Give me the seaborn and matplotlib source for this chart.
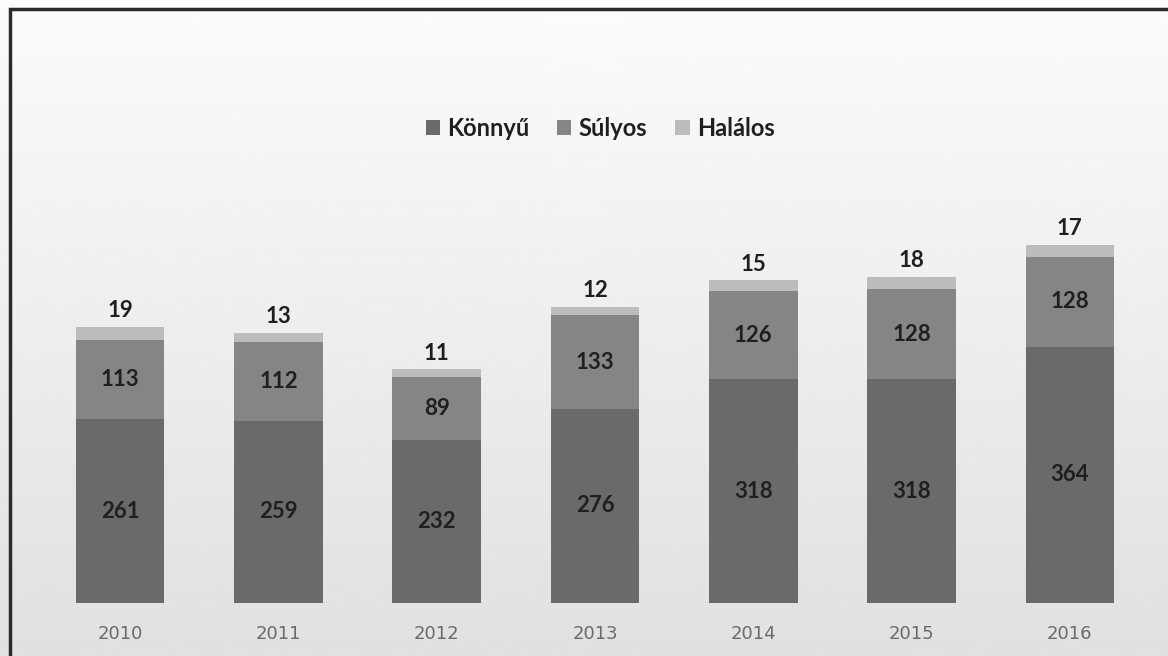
import numpy as np
import pandas as pd
import matplotlib
matplotlib.use("Agg")
import matplotlib.pyplot as plt
import seaborn as sns
from matplotlib.patches import Patch, Rectangle

years = ["2010", "2011", "2012", "2013", "2014", "2015", "2016"]
konnyu = [261, 259, 232, 276, 318, 318, 364]
sulyos = [113, 112, 89, 133, 126, 128, 128]
halalos = [19, 13, 11, 12, 15, 18, 17]
series_names = ["Könnyű", "Súlyos", "Halálos"]
colors = ["#6a6a6a", "#858585", "#bcbcbc"]

df = pd.DataFrame({"year": years, "Könnyű": konnyu, "Súlyos": sulyos, "Halálos": halalos})
df["ks"] = df["Könnyű"] + df["Súlyos"]
df["total"] = df["ks"] + df["Halálos"]

sns.set_theme(style="white")
plt.rcParams["font.family"] = ["Lato", "DejaVu Sans"]

fig = plt.figure(figsize=(11.68, 6.56), dpi=100)

# background gradient
bg = fig.add_axes([0, 0, 1, 1], zorder=-10)
grad = np.linspace(0.985, 0.88, 256).reshape(-1, 1)
bg.imshow(grad, aspect="auto", cmap="gray", vmin=0, vmax=1, extent=[0, 1, 0, 1])
bg.set_axis_off()
bg.add_patch(Rectangle((10 / 1168, -0.05), 1.2, 1 - 9 / 656 + 0.05, fill=False,
                       edgecolor="#2a2a2a", linewidth=2.5, transform=bg.transAxes))
bg.set_xlim(0, 1)
bg.set_ylim(0, 1)

ax = fig.add_axes([41 / 1168, 53 / 656, 1108 / 1168, 403 / 656])
ax.patch.set_alpha(0)

width = 0.56
bar_kw = dict(width=width, saturation=1, linewidth=0, edgecolor="none", ax=ax)
sns.barplot(data=df, x="year", y="total", color=colors[2], **bar_kw)
sns.barplot(data=df, x="year", y="ks", color=colors[1], **bar_kw)
sns.barplot(data=df, x="year", y="Könnyű", color=colors[0], **bar_kw)

ax.set_ylim(0, 573)
ax.set_xlim(-0.5, len(years) - 0.5)
for s in ax.spines.values():
    s.set_visible(False)
ax.set_yticks([])
ax.set_xlabel("")
ax.set_ylabel("")
ax.tick_params(axis="x", length=0, pad=16, labelsize=13, labelcolor="#6a6a6a")
for t in ax.get_xticklabels():
    t.set_family("DejaVu Sans")

lab_kw = dict(ha="center", va="center", fontsize=16, fontweight="bold", color="#1f1f1f")
for i in range(len(years)):
    ax.text(i, df["Könnyű"][i] / 2, str(df["Könnyű"][i]), **lab_kw)
    ax.text(i, df["Könnyű"][i] + df["Súlyos"][i] / 2, str(df["Súlyos"][i]), **lab_kw)
    ax.text(i, df["total"][i] + 8, str(df["Halálos"][i]), ha="center", va="bottom",
            fontsize=16, fontweight="bold", color="#1f1f1f")

handles = [Patch(facecolor=c, edgecolor="none") for c in colors]
fig.legend(handles, series_names, loc="center", bbox_to_anchor=(600 / 1168, 1 - 128 / 656),
           ncol=3, frameon=False, handlelength=0.6, handleheight=0.6, handletextpad=0.3,
           columnspacing=1.2, prop={"size": 17, "weight": "bold"}, labelcolor="#1f1f1f")

fig.savefig("out.png", dpi=100)
